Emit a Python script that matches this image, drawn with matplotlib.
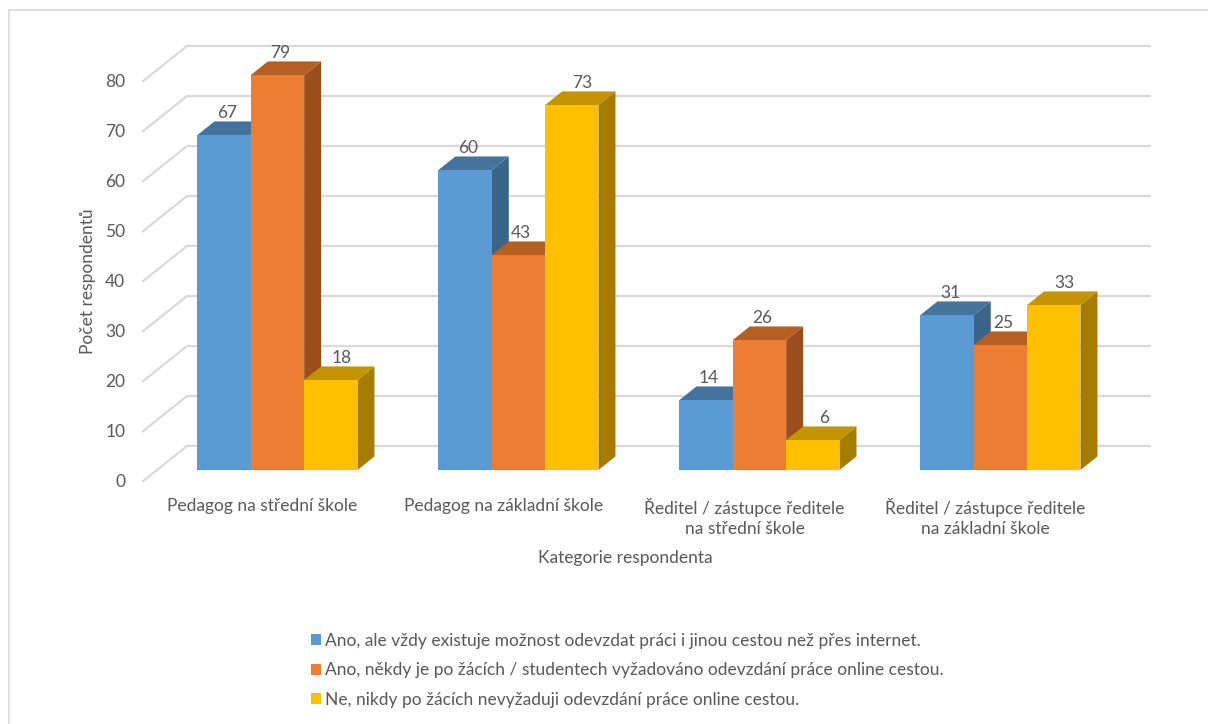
import matplotlib
matplotlib.use("Agg")
import matplotlib.pyplot as plt
from matplotlib.patches import Polygon, Rectangle, Patch

plt.rcParams['font.family'] = ['Lato', 'DejaVu Sans']

categories = ["Pedagog na střední škole",
              "Pedagog na základní škole",
              "Ředitel / zástupce ředitele\nna střední škole",
              "Ředitel / zástupce ředitele\nna základní škole"]
series_names = ["Ano, ale vždy existuje možnost odevzdat práci i jinou cestou než přes internet.",
                "Ano, někdy je po žácích / studentech vyžadováno odevzdání práce online cestou.",
                "Ne, nikdy po žácích nevyžaduji odevzdání práce online cestou."]
ano_vzdy = [67, 60, 14, 31]
ano_nekdy = [79, 43, 26, 25]
ne_nikdy = [18, 73, 6, 33]
values = [ano_vzdy, ano_nekdy, ne_nikdy]
y_ticks = [0, 10, 20, 30, 40, 50, 60, 70, 80]

# front / top / side shades for each series
colors = [("#5B9BD5", "#44739E", "#3A6589"),
          ("#ED7D31", "#B65F23", "#9B4D1C"),
          ("#FFC000", "#C39300", "#A57C00")]
text_col = "#595959"
grid_col = "#d9d9d9"

# oblique projection: depth of floor in data units
DX, DY = 0.1867, 7.2
F0, F1 = 1 / 3, 0.71       # bar front / back depth fraction
W = 0.2213                 # bar width in category units

W_PX, H_PX = 1208, 724
fig = plt.figure(figsize=(W_PX / 100, H_PX / 100), dpi=100)
ax = fig.add_axes([142 / W_PX, (H_PX - 492) / H_PX, 4.2 * 241 / W_PX, 460 / H_PX])
ax.set_xlim(0, 4.2)
ax.set_ylim(-2, 90)
ax.axis("off")

# gridlines: short diagonal then across the back wall
for v in y_ticks:
    ax.plot([0, DX, len(categories) + DX], [v, v + DY, v + DY],
            color=grid_col, lw=1.6, solid_capstyle="butt", zorder=1, clip_on=False)
    ax.text(-0.07, v, str(v), ha="right", va="center", fontsize=12.5, color=text_col)

for i, cat in enumerate(categories):
    for j, vals in enumerate(values):
        h = vals[i]
        front, top, side = colors[j]
        x0 = i + 0.5 - 1.5 * W + j * W + F0 * DX
        y0 = F0 * DY
        ddx, ddy = (F1 - F0) * DX, (F1 - F0) * DY
        z = 3 + i * 10 + j * 3
        ax.add_patch(Polygon([(x0 + W, y0), (x0 + W + ddx, y0 + ddy),
                              (x0 + W + ddx, y0 + h + ddy), (x0 + W, y0 + h)],
                             closed=True, facecolor=side, edgecolor="none", zorder=z))
        ax.add_patch(Polygon([(x0, y0 + h), (x0 + W, y0 + h),
                              (x0 + W + ddx, y0 + h + ddy), (x0 + ddx, y0 + h + ddy)],
                             closed=True, facecolor=top, edgecolor="none", zorder=z + 1))
        ax.add_patch(Rectangle((x0, y0), W, h, facecolor=front, edgecolor="none", zorder=z + 2))
        # yellow labels sit a little further right
        shift = 0.045 if j == 2 else 0.012
        ax.text(x0 + W / 2 + shift, y0 + h + ddy + 0.6, str(h), ha="center", va="baseline",
                fontsize=12.5, color=text_col, zorder=50)
    ax.text(i + 0.5, -3.2, cat, ha="center", va="top", fontsize=12.5,
            color=text_col, linespacing=1.3)

fig.text(625 / W_PX, 1 - 558 / H_PX, "Kategorie respondenta", ha="center", va="center",
         fontsize=12.5, color=text_col)
fig.text(88 / W_PX, 1 - 281 / H_PX, "Počet respondentů", ha="center", va="center",
         rotation=90, fontsize=12.5, color=text_col)

handles = [Patch(facecolor=c[0], edgecolor="none") for c in colors]
fig.legend(handles, series_names, loc="upper left",
           bbox_to_anchor=(295 / W_PX, 1 - 617 / H_PX), frameon=False,
           fontsize=12.5, labelcolor=text_col, handlelength=0.6, handleheight=0.6,
           handletextpad=0.2, labelspacing=0.78)

# chart area border
fig.add_artist(Rectangle((8.5 / W_PX, -0.5), 2, 1.5 - 10 / H_PX, transform=fig.transFigure,
                         fill=False, edgecolor=grid_col, lw=1.2))

fig.savefig("out.png", dpi=100)
